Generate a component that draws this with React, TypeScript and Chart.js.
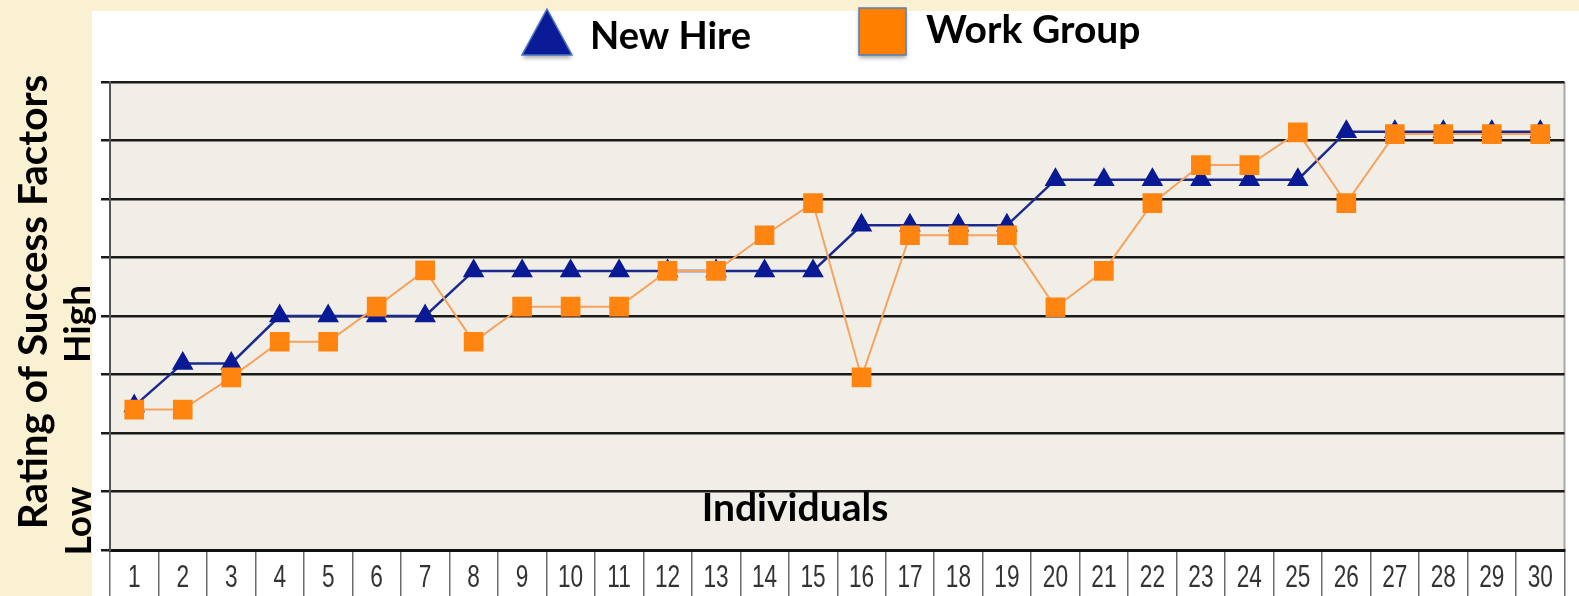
import React, { useEffect, useRef } from "react";
import { Chart, registerables } from "chart.js";

Chart.register(...registerables);

const individuals = [
  "1", "2", "3", "4", "5", "6", "7", "8", "9", "10",
  "11", "12", "13", "14", "15", "16", "17", "18", "19", "20",
  "21", "22", "23", "24", "25", "26", "27", "28", "29", "30",
];

const newHire = [
  2.46, 3.19, 3.19, 4.0, 4.0, 4.0, 4.0, 4.77, 4.77, 4.77,
  4.77, 4.77, 4.77, 4.77, 4.77, 5.55, 5.55, 5.55, 5.55, 6.33,
  6.33, 6.33, 6.33, 6.33, 6.33, 7.15, 7.15, 7.15, 7.15, 7.15,
];

const workGroup = [
  2.4, 2.4, 2.95, 3.56, 3.56, 4.16, 4.78, 3.56, 4.16, 4.16,
  4.16, 4.77, 4.77, 5.38, 5.93, 2.95, 5.38, 5.38, 5.38, 4.15,
  4.77, 5.93, 6.58, 6.58, 7.14, 5.93, 7.11, 7.11, 7.11, 7.11,
];

const yMin = 0;
const yMax = 8;
const yStep = 1;

const legendLabels = ["New Hire", "Work Group"];
const yTitle = "Rating of Success Factors";
const highLabel = "High";
const lowLabel = "Low";
const xTitle = "Individuals";

const BOLD = "'Lato', 'Open Sans', 'DejaVu Sans', sans-serif";
const TICK = "'Liberation Sans', Arial, sans-serif";

export default function App() {
  const ref = useRef<HTMLCanvasElement | null>(null);

  useEffect(() => {
    document.body.style.margin = "0";
    if (!ref.current) return;

    const decor = {
      id: "decor",
      beforeDraw(chart: any) {
        const { ctx, width, height, chartArea: a } = chart;
        ctx.save();
        ctx.fillStyle = "#FAF0D2";
        ctx.fillRect(0, 0, width, height);
        ctx.fillStyle = "#FFFFFF";
        ctx.fillRect(92, 11, width - 92, height - 11);
        ctx.fillStyle = "#F0EEE6";
        ctx.fillRect(a.left, a.top, a.right - a.left, a.bottom - a.top);
        ctx.strokeStyle = "#A8A8A8";
        ctx.lineWidth = 2;
        ctx.beginPath();
        ctx.moveTo(a.right, a.top);
        ctx.lineTo(a.right, a.bottom);
        ctx.stroke();
        ctx.restore();
      },
      afterDraw(chart: any) {
        const { ctx } = chart;
        ctx.save();
        // Category labels, condensed, placed by the x scale
        const xs = chart.scales.x;
        ctx.fillStyle = "#333333";
        ctx.font = `31px ${TICK}`;
        ctx.textAlign = "center";
        ctx.textBaseline = "alphabetic";
        individuals.forEach((lab, i) => {
          const px = xs.getPixelForValue(i);
          ctx.save();
          ctx.translate(px, 587);
          ctx.scale(0.73, 1);
          ctx.fillText(lab, 0, 0);
          ctx.restore();
        });

        // Legend: New Hire triangle
        ctx.shadowColor = "rgba(0,0,0,0.35)";
        ctx.shadowBlur = 4;
        ctx.shadowOffsetY = 3;
        ctx.fillStyle = "#0B1A96";
        ctx.strokeStyle = "#4A78C0";
        ctx.lineWidth = 1.5;
        ctx.beginPath();
        ctx.moveTo(547, 9);
        ctx.lineTo(572, 55);
        ctx.lineTo(522, 55);
        ctx.closePath();
        ctx.fill();
        ctx.shadowColor = "transparent";
        ctx.stroke();
        // Legend: Work Group square
        ctx.shadowColor = "rgba(0,0,0,0.35)";
        ctx.fillStyle = "#FF7F00";
        ctx.fillRect(859, 8, 47, 47);
        ctx.shadowColor = "transparent";
        ctx.strokeStyle = "#4F81BD";
        ctx.strokeRect(859, 8, 47, 47);

        ctx.fillStyle = "#000";
        ctx.textBaseline = "alphabetic";
        ctx.textAlign = "left";
        ctx.font = `bold 38px ${BOLD}`;
        ctx.fillText(legendLabels[0], 590, 49);
        ctx.font = `bold 39px ${BOLD}`;
        ctx.fillText(legendLabels[1], 926, 43);

        // X title
        ctx.textAlign = "center";
        ctx.font = `bold 39px ${BOLD}`;
        ctx.fillText(xTitle, 795, 521);

        // Y titles (rotated)
        const rot = (text: string, x: number, y: number, size: number) => {
          ctx.save();
          ctx.translate(x, y);
          ctx.rotate(-Math.PI / 2);
          ctx.font = `bold ${size}px ${BOLD}`;
          ctx.textAlign = "center";
          ctx.textBaseline = "alphabetic";
          ctx.fillText(text, 0, 0);
          ctx.restore();
        };
        rot(yTitle, 47, 302, 40.5);
        rot(highLabel, 90, 324, 37);
        rot(lowLabel, 91, 521, 37);
        ctx.restore();
      },
    };

    const chart = new Chart(ref.current, {
      type: "line",
      data: {
        labels: individuals,
        datasets: [
          {
            label: legendLabels[1],
            data: workGroup,
            borderColor: "#F5A35E",
            backgroundColor: "#FF8410",
            pointBackgroundColor: "#FF8410",
            pointBorderColor: "#FF8410",
            pointStyle: "rect",
            pointRadius: 12.5,
            borderWidth: 2,
            tension: 0,
            order: 0,
          },
          {
            label: legendLabels[0],
            data: newHire,
            borderColor: "#1B2A8C",
            backgroundColor: "#0A1A94",
            pointBackgroundColor: "#0A1A94",
            pointBorderColor: "#0A1A94",
            pointStyle: "triangle",
            pointRadius: 10,
            borderWidth: 2.5,
            tension: 0,
            order: 1,
          },
        ],
      },
      options: {
        animation: false,
        responsive: false,
        layout: { padding: { top: 82, right: 12, left: 0, bottom: 0 } },
        plugins: {
          legend: { display: false },
          tooltip: { enabled: false },
          title: { display: false },
        },
        scales: {
          x: {
            type: "category",
            offset: true,
            grid: {
              offset: true,
              drawOnChartArea: false,
              drawTicks: true,
              tickLength: 46,
              color: "#6B6B6B",
              lineWidth: 1.5,
            },
            border: { display: true, color: "#111111", width: 3 },
            ticks: {
              autoSkip: false,
              maxRotation: 0,
              minRotation: 0,
              color: "rgba(0,0,0,0)",
              font: { size: 12 },
            },
            afterFit(s: any) {
              s.height = 46;
            },
          },
          y: {
            min: yMin,
            max: yMax,
            ticks: { stepSize: yStep, display: false },
            grid: { color: "#1A1A1A", lineWidth: 2.5, tickLength: 9, drawTicks: true },
            border: { display: true, color: "#555555", width: 2 },
            afterFit(s: any) {
              s.width = 110;
            },
          },
        },
      },
      plugins: [decor],
    } as any);

    return () => chart.destroy();
  }, []);

  return (
    <div style={{ position: "fixed", left: 0, top: 0, width: 1579, height: 596 }}>
      <canvas ref={ref} width={1579} height={596} style={{ display: "block" }} />
    </div>
  );
}
